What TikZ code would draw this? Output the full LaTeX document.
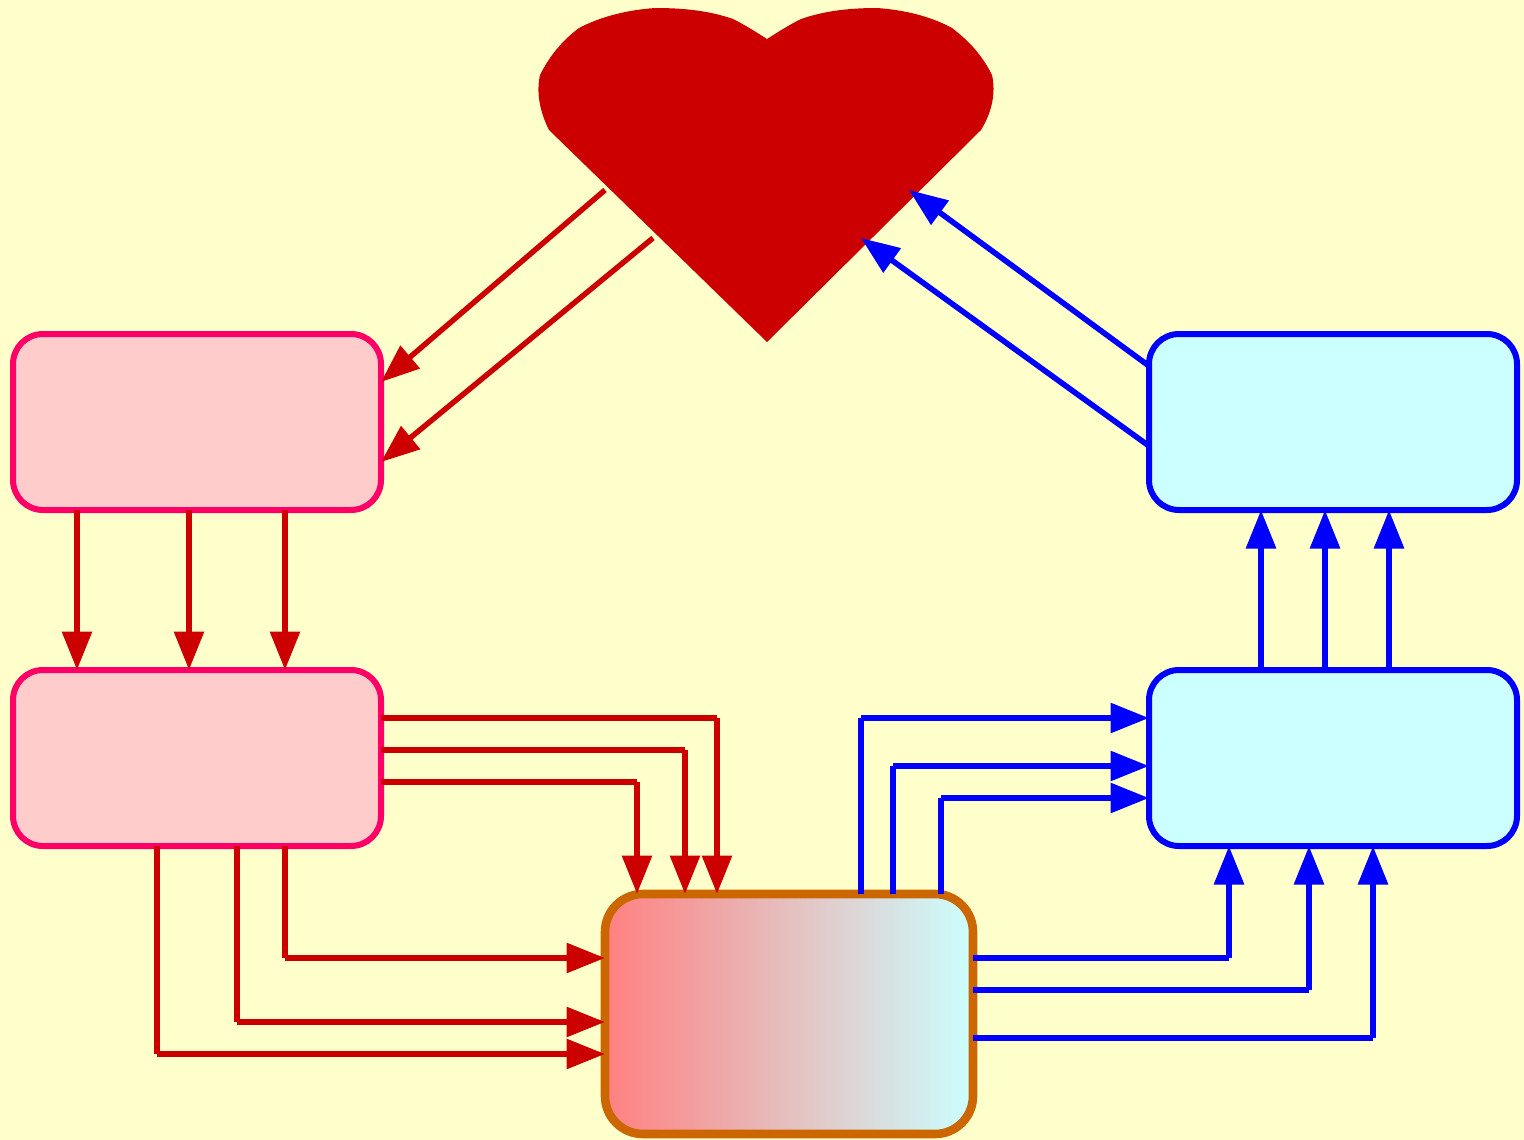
\documentclass[tikz,border=0pt]{standalone}
\usetikzlibrary{arrows.meta}
\definecolor{bgc}{HTML}{FFFFCC}
\definecolor{pinkf}{HTML}{FFCCCC}
\definecolor{pinkb}{HTML}{FF0066}
\definecolor{redc}{HTML}{CC0000}
\definecolor{bluec}{HTML}{0000FF}
\definecolor{cyanf}{HTML}{CCFFFF}
\definecolor{orangec}{HTML}{CC6600}
\definecolor{gradl}{HTML}{FF8080}
\tikzset{
  statebox/.style={draw,rectangle,rounded corners=30pt,minimum width=368pt,minimum height=176pt,outer sep=0pt,inner sep=0pt,line width=6pt},
  pinkbox/.style={statebox,draw=pinkb,fill=pinkf},
  cyanbox/.style={statebox,draw=bluec,fill=cyanf},
  centrebox/.style={draw=orangec,rectangle,rounded corners=38pt,minimum width=368pt,minimum height=240pt,outer sep=0pt,inner sep=0pt,line width=8.6pt,left color=gradl,right color=cyanf,shading angle=90},
  redarrow/.style={draw=redc,line width=6pt,-{Triangle[length=38.5pt,width=29pt,fill=redc]},line join=miter},
  bluearrow/.style={draw=bluec,line width=6pt,-{Triangle[length=38.5pt,width=29pt,fill=bluec]},line join=miter},
  reddiag/.style={redarrow,line width=5.4pt},
  bluediag/.style={bluearrow,line width=5.6pt},
}
\newcommand{\elbowHV}[3]{\coordinate (s) at #2; \coordinate (t) at #3; \draw[#1] (s) -- (s -| t) (s -| t) -- (t);}
\newcommand{\elbowVH}[3]{\coordinate (s) at #2; \coordinate (t) at #3; \draw[#1] (s) -- (s |- t) (s |- t) -- (t);}
\begin{document}
\begin{tikzpicture}[x=1pt,y=-1pt]
\useasboundingbox (0,0) rectangle (1524,1140);
\fill[bgc] (0,0) rectangle (1524,1140);
% heart
\fill[redc] (767,342) -- (549,130)
  .. controls (540,112) and (536,93) .. (540,75)
  .. controls (550,55) and (563,40) .. (579,28)
  .. controls (602,16) and (628,10) .. (655,8)
  .. controls (685,8) and (710,11) .. (733,19)
  .. controls (745,25) and (756,32) .. (767,39)
  .. controls (778,32) and (789,25) .. (801,19)
  .. controls (824,11) and (849,8) .. (877,8)
  .. controls (904,10) and (930,16) .. (952,28)
  .. controls (969,41) and (982,55) .. (992,75)
  .. controls (996,93) and (992,112) .. (981,130) -- cycle;
\coordinate (h1) at (605,190);
\coordinate (h2) at (653,238);
\coordinate (h3) at (909,190);
\coordinate (h4) at (861,238);
% boxes
\node[pinkbox] (A) at (197,422) {};
\node[pinkbox] (B) at (197,758) {};
\node[cyanbox] (C) at (1333,422) {};
\node[cyanbox] (D) at (1333,758) {};
\node[centrebox] (E) at (789,1014) {};
% heart <-> side boxes
\draw[reddiag] (h1) -- ([yshift=40pt]A.east);
\draw[reddiag] (h2) -- ([yshift=-40pt]A.east);
\draw[bluediag] ([yshift=56pt]C.west) -- (h3);
\draw[bluediag] ([yshift=-24pt]C.west) -- (h4);
% A -> B
\foreach \xx in {64,176,272}
  \draw[redarrow] ([xshift=\xx pt]A.south west) -- ([xshift=\xx pt]B.north west);
% B -> E (top)
\elbowHV{redarrow}{([yshift=40pt]B.east)}{([xshift=112pt]E.north west)}
\elbowHV{redarrow}{([yshift=8pt]B.east)}{([xshift=80pt]E.north west)}
\elbowHV{redarrow}{([yshift=-24pt]B.east)}{([xshift=32pt]E.north west)}
% B -> E (left)
\elbowVH{redarrow}{([xshift=272pt]B.south west)}{([yshift=56pt]E.west)}
\elbowVH{redarrow}{([xshift=224pt]B.south west)}{([yshift=-8pt]E.west)}
\elbowVH{redarrow}{([xshift=144pt]B.south west)}{([yshift=-40pt]E.west)}
% E -> D (left)
\elbowVH{bluearrow}{([xshift=256pt]E.north west)}{([yshift=40pt]D.west)}
\elbowVH{bluearrow}{([xshift=288pt]E.north west)}{([yshift=-8pt]D.west)}
\elbowVH{bluearrow}{([xshift=336pt]E.north west)}{([yshift=-40pt]D.west)}
% E -> D (bottom)
\elbowHV{bluearrow}{([yshift=56pt]E.east)}{([xshift=80pt]D.south west)}
\elbowHV{bluearrow}{([yshift=24pt]E.east)}{([xshift=160pt]D.south west)}
\elbowHV{bluearrow}{([yshift=-24pt]E.east)}{([xshift=224pt]D.south west)}
% D -> C
\foreach \xx in {112,176,240}
  \draw[bluearrow] ([xshift=\xx pt]D.north west) -- ([xshift=\xx pt]C.south west);
\end{tikzpicture}
\end{document}
